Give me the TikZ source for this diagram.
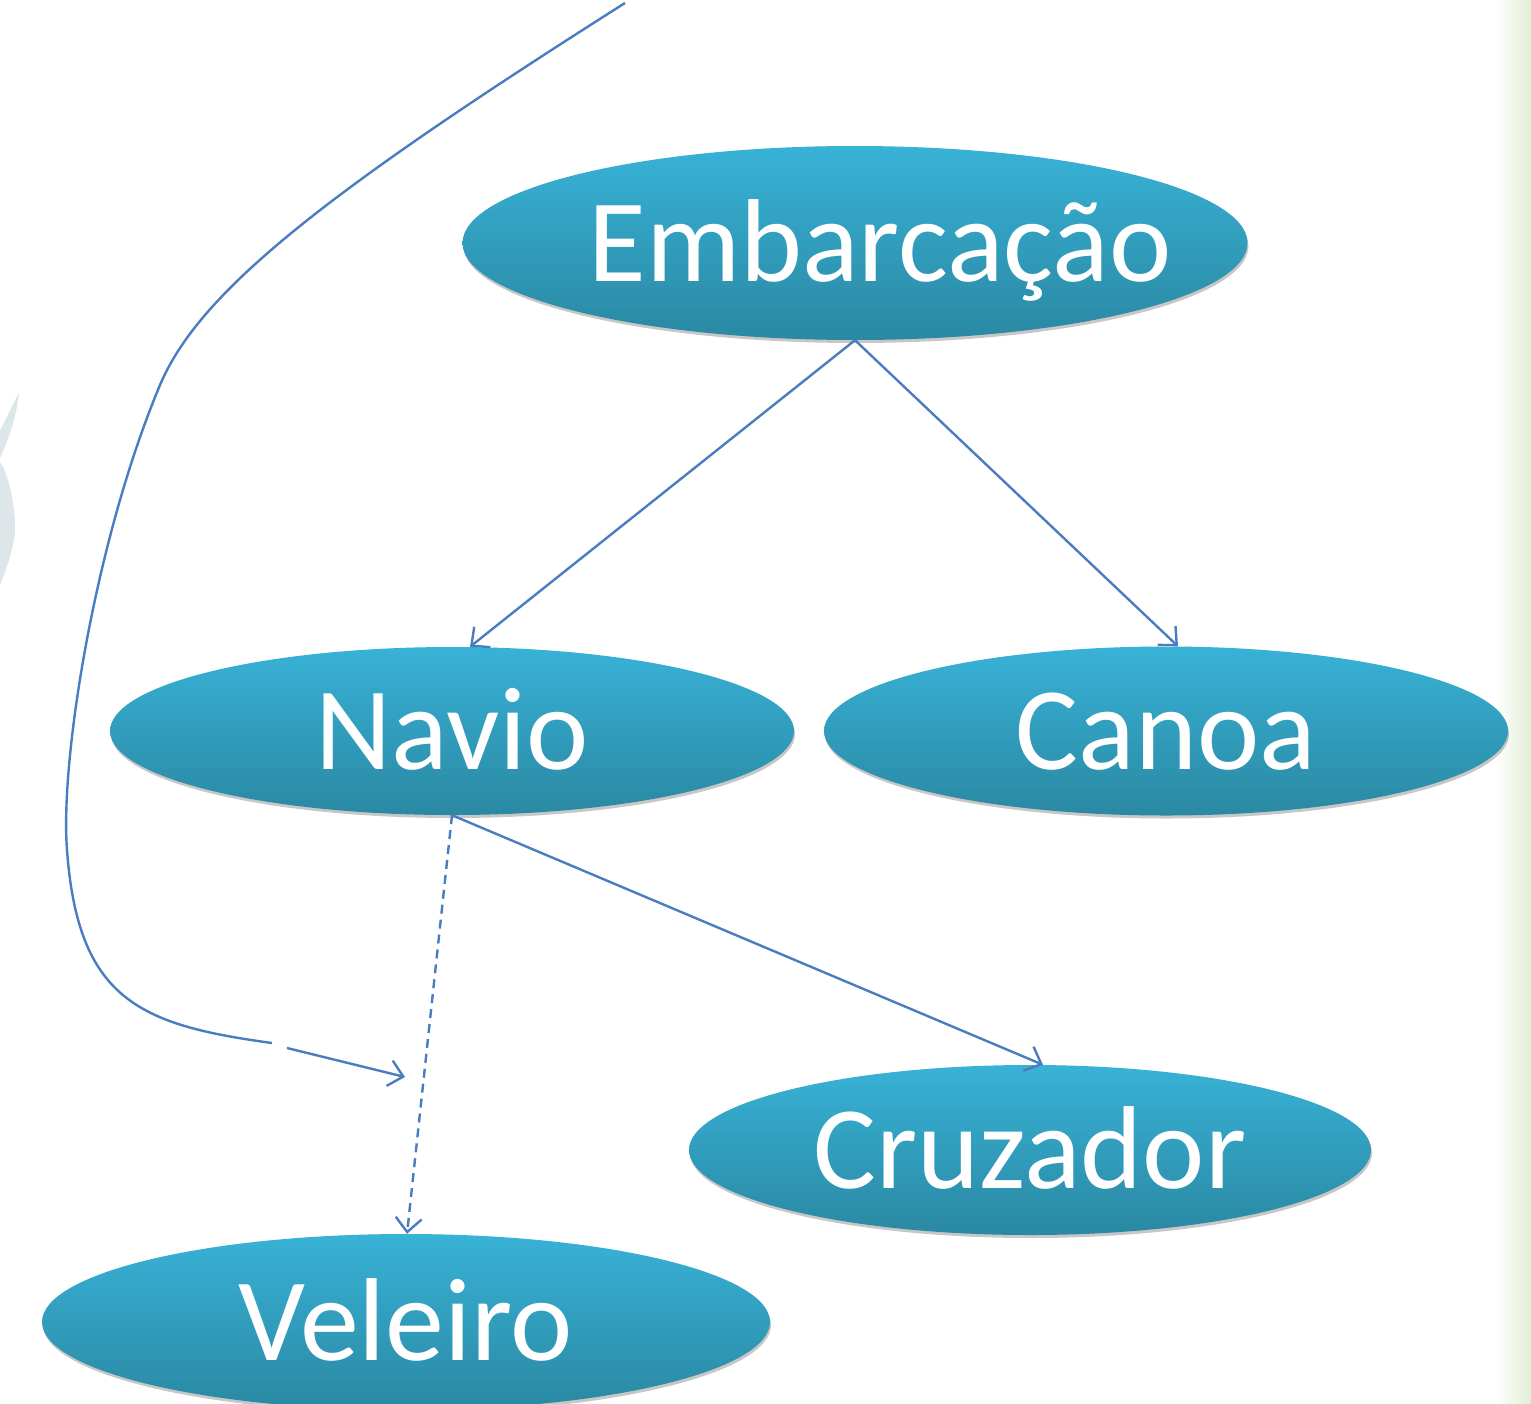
\documentclass[tikz,border=0pt]{standalone}
\usepackage{fontspec}
\setmainfont{Carlito}
\usetikzlibrary{arrows.meta,shadows,shapes.geometric}
\definecolor{ovtop}{HTML}{38B2D7}
\definecolor{ovbot}{HTML}{2A88A2}
\definecolor{conn}{HTML}{4A7DC0}
\definecolor{stripg}{HTML}{E2EED5}
\definecolor{decoc}{HTML}{DDE7E9}
\begin{document}
\begin{tikzpicture}[x=1pt,y=-1pt,
  oval/.style={ellipse, inner sep=0pt, draw=none, top color=ovtop, bottom color=ovbot,
    text=white, font=\fontsize{118}{118}\selectfont, text height=76pt, text depth=0pt,
    drop shadow={shadow xshift=1pt, shadow yshift=-3pt, opacity=0.22, fill=black}},
  connline/.style={draw=conn, line width=2.4pt},
  link/.style={connline, -{Straight Barb[length=14pt,width=26pt,line width=2.4pt]}},
]
\clip (0,0) rectangle (1531,1403);
\fill[white] (0,0) rectangle (1531,1403);
% background decorations
\shade[left color=white, right color=stripg] (1495,0) rectangle (1531,1403);
\fill[decoc] (19,393) .. controls (16,420) and (8,440) .. (0,458) -- (0,430) .. controls (6,420) and (12,405) .. cycle;
\fill[decoc] (0,462) .. controls (10,475) and (18,520) .. (14,540) .. controls (10,560) and (4,575) .. (0,585) -- cycle;

% nodes
\node[oval, minimum width=785pt, minimum height=194pt] (emb) at (855,243) {\makebox[0pt]{\hspace{50pt}Embarcação}};
\node[oval, minimum width=684pt, minimum height=168pt] (navio) at (452,731) {Navio};
\node[oval, minimum width=684pt, minimum height=169pt] (canoa) at (1166,731) {Canoa};
\node[oval, minimum width=682pt, minimum height=170pt] (cruz) at (1030,1150) {Cruzador};
\node[oval, minimum width=728pt, minimum height=176pt] (vel) at (406,1322) {Veleiro};

% connectors
\draw[link] (emb.south) -- ([xshift=18pt]navio.north);
\draw[link] (emb.south) -- ([xshift=12pt]canoa.north);
\draw[link] (navio.south) -- ([xshift=13pt]cruz.north);
\draw[link, dash pattern=on 9pt off 6pt] (navio.south) -- ([xshift=1pt]vel.north);

% free curve
\coordinate (cstart) at (625,3);
\coordinate (cgapa) at (272,1043);
\coordinate (cgapb) at (287,1048);
\coordinate (cend) at (405,1077);
\draw[connline] (cstart) .. controls (330,190) and (200,290) .. (160,385)
  .. controls (95,540) and (60,760) .. (67,850)
  .. controls (78,1000) and (140,1025) .. (cgapa);
\draw[link] (cgapb) -- (cend);
\end{tikzpicture}
\end{document}
